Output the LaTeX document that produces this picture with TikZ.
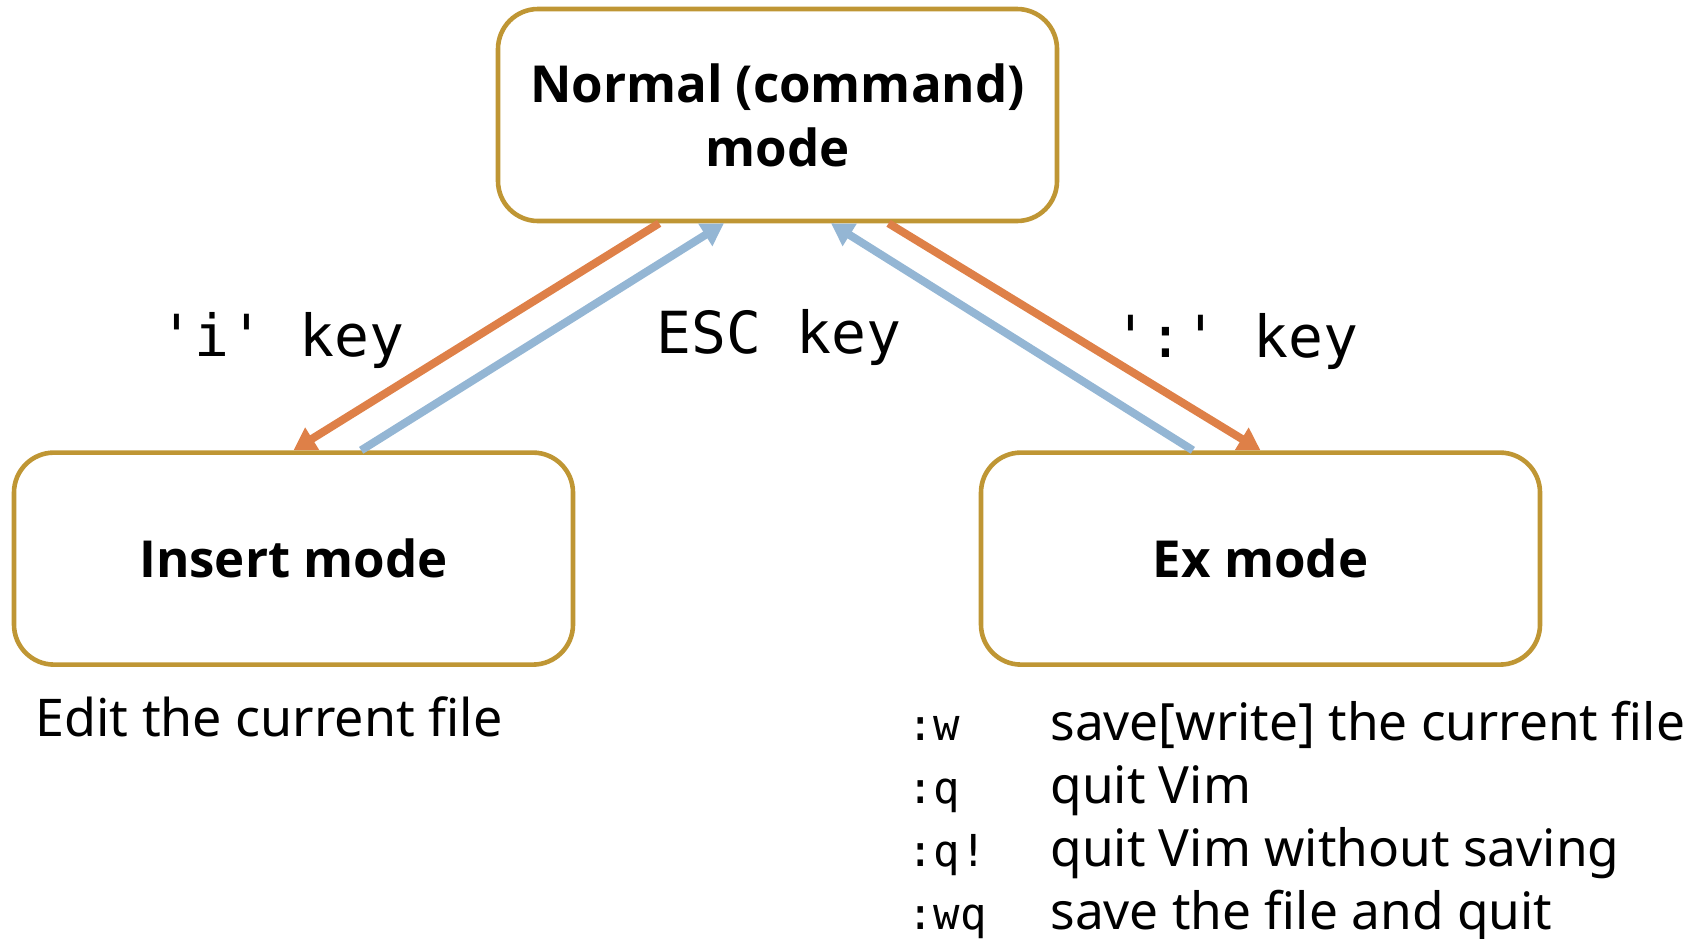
\documentclass[tikz,border=0pt]{standalone}
\usepackage{fontspec}
\setmainfont{Noto Sans}
\setmonofont{DejaVu Sans Mono}
\newfontfamily\boxfont{Open Sans}
\usetikzlibrary{arrows.meta}
\usetikzlibrary{positioning}
\usetikzlibrary{calc}
\definecolor{boxgold}{RGB}{191,150,52}
\definecolor{keyorange}{RGB}{222,128,72}
\definecolor{escblue}{RGB}{148,182,212}

\begin{document}
\begin{tikzpicture}[
x=0.5pt, y=-0.5pt,
modebox/.style={rectangle, rounded corners=20pt, draw=boxgold, line width=2.3pt, minimum width=279.5pt, minimum height=106pt, align=center, font=\boxfont\bfseries\fontsize{25.5}{32}\selectfont},
keylabel/.style={anchor=base, inner sep=0pt, font=\fontsize{29}{34}\selectfont\ttfamily},
keyarrow/.style={draw=keyorange, line width=4pt, -{Triangle[length=11pt,width=12.5pt]}},
escarrow/.style={draw=escblue, line width=4pt, -{Triangle[length=11pt,width=12.5pt]}},
]
\useasboundingbox (0,0) rectangle (1697,938);
\node[modebox](normal) at (777.5,115) {Normal (command)\\mode};
\node[modebox, below=113.5pt of normal, xshift=-242pt](insert){Insert mode};
\node[modebox, below=113.5pt of normal, xshift=241.5pt](ex){Ex mode};
\draw[keyarrow] ($(normal.south west)!0.29!(normal.south east)$) -- (insert.north);
\draw[escarrow] ($(insert.north west)!0.62!(insert.north east)$) -- ($(normal.south west)!0.405!(normal.south east)$);
\draw[escarrow] ($(ex.north west)!0.38!(ex.north east)$) -- ($(normal.south west)!0.595!(normal.south east)$);
\draw[keyarrow] ($(normal.south west)!0.697!(normal.south east)$) -- (ex.north);
\node[keylabel](ikey) at (282,356) {'i' key};
\node[keylabel](esckey) at (779,353) {ESC key};
\node[keylabel](colonkey) at (1236,357) {':' key};
\node[anchor=base west, inner sep=0pt, font=\fontsize{26}{31.5}\selectfont](edit) at (35,736) {Edit the current file};
\node[anchor=base west, inner sep=0pt, font=\fontsize{25.7}{31.5}\selectfont](excmds) at (907,740) {%
\begin{tabular}[t]{@{}p{71.5pt}@{}l@{}}
{\ttfamily\fontsize{22}{26}\selectfont :w} & save[write] the current file\\
{\ttfamily\fontsize{22}{26}\selectfont :q} & quit Vim\\
{\ttfamily\fontsize{22}{26}\selectfont :q!} & quit Vim without saving\\
{\ttfamily\fontsize{22}{26}\selectfont :wq} & save the file and quit
\end{tabular}};
\end{tikzpicture}
\end{document}
